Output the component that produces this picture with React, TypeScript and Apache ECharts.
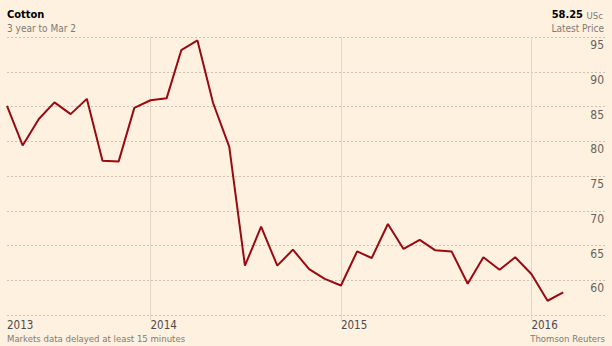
import React, { useEffect, useRef } from 'react';
import * as echarts from 'echarts';

const months: string[] = [
  '2013-04-01', '2013-05-01', '2013-06-01', '2013-07-01', '2013-08-01', '2013-09-01',
  '2013-10-01', '2013-11-01', '2013-12-01',
  '2014-01-01', '2014-02-01', '2014-03-01', '2014-04-01', '2014-05-01', '2014-06-01',
  '2014-07-01', '2014-08-01', '2014-09-01', '2014-10-01', '2014-11-01', '2014-12-01',
  '2015-01-01', '2015-02-01', '2015-03-01', '2015-04-01', '2015-05-01', '2015-06-01',
  '2015-07-01', '2015-08-01', '2015-09-01', '2015-10-01', '2015-11-01', '2015-12-01',
  '2016-01-01', '2016-02-01', '2016-03-02',
];

const prices: number[] = [
  85.1, 79.4, 83.2, 85.6, 83.9, 86.1, 77.2, 77.1, 84.8,
  85.9, 86.2, 93.1, 94.5, 85.5, 79.2, 62.1, 67.7, 62.1, 64.4, 61.6, 60.2,
  59.25, 64.15, 63.2, 68.1, 64.5, 65.8, 64.3, 64.15, 59.5, 63.3, 61.5, 63.3,
  60.9, 57.05, 58.25,
];

const yearLines: string[] = ['2014-01-01', '2015-01-01', '2016-01-01'];
const yearLabelDates: string[] = ['2013-04-01', '2014-01-01', '2015-01-01', '2016-01-01'];

const axisStart = '2013-04-01';
const axisEnd = '2016-05-23';
const yMin = 55;
const yMax = 95;
const yStep = 5;

const title = 'Cotton';
const subtitle = '3 year to Mar 2';
const latestPrice = '58.25';
const unit = 'USc';
const latestLabel = 'Latest Price';
const footLeft = 'Markets data delayed at least 15 minutes';
const footRight = 'Thomson Reuters';

const toTs = (s: string) => {
  const [y, m, d] = s.split('-').map(Number);
  return new Date(y, m - 1, d).getTime();
};

const FONT = "'Liberation Sans Narrow', 'DejaVu Sans Condensed', 'Liberation Sans', Arial, sans-serif";
const GRAY = '#7d7a75';

export default function App() {
  const ref = useRef<HTMLDivElement>(null);

  useEffect(() => {
    if (!ref.current) return;
    const chart = echarts.init(ref.current, undefined, { renderer: 'svg' });
    const data = months.map((m, i) => [toTs(m), prices[i]]);
    chart.setOption({
      animation: false,
      backgroundColor: '#fff1e0',
      textStyle: { fontFamily: FONT },
      grid: { left: 7, right: 6, top: 37, bottom: 31, containLabel: false },
      xAxis: {
        type: 'value',
        min: toTs(axisStart),
        max: toTs(axisEnd),
        scale: true,
        axisLine: { show: false },
        axisTick: {
          show: true,
          length: 5,
          customValues: yearLines.map(toTs),
          lineStyle: { color: '#e3d6c4', width: 1 },
        },
        splitLine: {
          show: true,
          lineStyle: { color: '#e3d6c4', width: 1, type: 'solid' },
        },
        axisLabel: {
          customValues: yearLabelDates.map(toTs),
          formatter: (v: number) => String(new Date(v).getFullYear()),
          align: 'left',
          verticalAlign: 'top',
          margin: 4,
          fontSize: 11.5,
          color: '#4a4a4a',
          fontFamily: FONT,
        },
      },
      yAxis: {
        type: 'value',
        position: 'right',
        min: yMin,
        max: yMax,
        interval: yStep,
        axisLine: { show: false },
        axisTick: { show: false },
        splitLine: {
          show: true,
          lineStyle: { color: '#cdc2b3', width: 1, type: [2, 2] },
        },
        axisLabel: {
          inside: true,
          align: 'right',
          verticalAlign: 'top',
          margin: 2,
          padding: [2, 0, 0, 0],
          fontSize: 12,
          color: '#66625c',
          fontFamily: FONT,
          showMinLabel: false,
          showMaxLabel: true,
        },
      },
      series: [
        {
          type: 'line',
          data,
          showSymbol: false,
          symbol: 'none',
          lineStyle: { color: '#980a10', width: 2 },
          itemStyle: { color: '#980a10' },
          z: 5,
        },
      ],
      graphic: [
        { type: 'text', x: 7, y: 14, style: { text: title, fill: '#000', font: `bold 11px ${FONT}`, verticalAlign: 'middle', align: 'left' } },
        { type: 'text', x: 7, y: 28, style: { text: subtitle, fill: GRAY, font: `10px ${FONT}`, verticalAlign: 'middle', align: 'left' } },
        { type: 'text', x: 583, y: 14, style: { text: latestPrice, fill: '#000', font: `bold 11px ${FONT}`, verticalAlign: 'middle', align: 'right' } },
        { type: 'text', x: 603, y: 15, style: { text: unit, fill: GRAY, font: `9.5px ${FONT}`, verticalAlign: 'middle', align: 'right' } },
        { type: 'text', x: 604, y: 28, style: { text: latestLabel, fill: GRAY, font: `10px ${FONT}`, verticalAlign: 'middle', align: 'right' } },
        { type: 'text', x: 7, y: 338, style: { text: footLeft, fill: GRAY, font: `9.5px ${FONT}`, verticalAlign: 'middle', align: 'left' } },
        { type: 'text', x: 605, y: 338, style: { text: footRight, fill: GRAY, font: `9.5px ${FONT}`, verticalAlign: 'middle', align: 'right' } },
      ],
    });
    return () => chart.dispose();
  }, []);

  return (
    <div
      ref={ref}
      style={{ position: 'fixed', left: 0, top: 0, width: 612, height: 346 }}
    />
  );
}
